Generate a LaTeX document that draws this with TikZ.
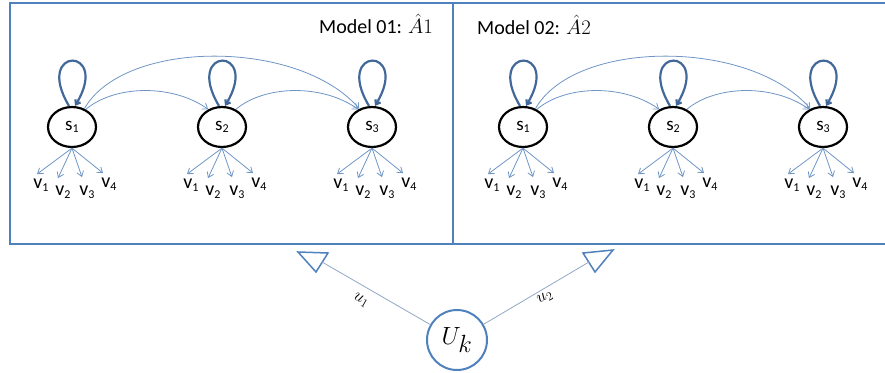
\documentclass[tikz,border=0pt]{standalone}
\usepackage{fontspec}
\setmainfont{Carlito}
\usetikzlibrary{arrows.meta,shapes.geometric}
\definecolor{boxblue}{HTML}{4F81BD}
\definecolor{arrblue}{HTML}{6F95C5}
\definecolor{loopblue}{HTML}{42689A}
\definecolor{linegray}{HTML}{8FA7C4}
\newcommand{\lowsub}[1]{\raisebox{-0.12em}{\fontsize{12}{12}\selectfont #1}}
\begin{document}
\begin{tikzpicture}[x=1pt,y=-1pt,
  state/.style={ellipse, draw=black, line width=2.2pt, minimum width=48pt, minimum height=40pt, inner sep=0pt, font=\fontsize{19}{19}\selectfont},
  obs/.style={inner sep=0pt, font=\fontsize{20}{20}\selectfont},
  varr/.style={draw=arrblue, line width=0.8pt, -{Straight Barb[length=5pt,width=7pt]}},
  trans/.style={draw=arrblue, line width=0.8pt, -{Straight Barb[length=5pt,width=7pt]}},
  selfloop/.style={draw=loopblue, line width=2.2pt, -{Straight Barb[length=4pt,width=6pt]}},
  panel/.style={draw=boxblue, line width=2.2pt},
  title/.style={inner sep=0pt, font=\fontsize{20}{20}\selectfont},
  tri/.style={draw=boxblue, line width=1.5pt, line join=miter},
  ulink/.style={draw=linegray, line width=0.8pt},
  ulabel/.style={inner sep=0pt, font=\fontsize{18}{18}\selectfont}
]
\useasboundingbox (0,0) rectangle (885,372);

% panels
\draw[panel] (10,3) rectangle (453,244);
\draw[panel] (453,3) rectangle (895,244);
\node[title, anchor=east] (t1) at (433,24) {Model 01: $\hat{A}1$};
\node[title, anchor=west] (t2) at (477,25) {Model 02: $\hat{A}2$};

\foreach \p/\dx in {1/0, 2/451}{
  \foreach \i/\x in {1/72, 2/222, 3/372}{
    \node[state] (p\p-s\i) at ({\x+\dx},127) {s\lowsub{\i}};
    \draw[selfloop] ([xshift=-3pt]p\p-s\i.north) .. controls +(-36,-60) and +(36,-60) .. ([xshift=3pt]p\p-s\i.north);
    \coordinate (p\p-s\i-a1) at ([shift={(-35,26)}]p\p-s\i.south);
    \coordinate (p\p-s\i-a2) at ([shift={(-14,30)}]p\p-s\i.south);
    \coordinate (p\p-s\i-a3) at ([shift={(10,29)}]p\p-s\i.south);
    \coordinate (p\p-s\i-a4) at ([shift={(31,25)}]p\p-s\i.south);
    \node[obs] (p\p-s\i-v1) at ([shift={(-31,37)}]p\p-s\i.south) {v\lowsub{1}};
    \node[obs] (p\p-s\i-v2) at ([shift={(-9,44)}]p\p-s\i.south) {v\lowsub{2}};
    \node[obs] (p\p-s\i-v3) at ([shift={(15,44)}]p\p-s\i.south) {v\lowsub{3}};
    \node[obs] (p\p-s\i-v4) at ([shift={(37,36)}]p\p-s\i.south) {v\lowsub{4}};
    \foreach \k in {1,2,3,4}{
      \draw[varr] (p\p-s\i.south) -- (p\p-s\i-a\k);
    }
  }
  \draw[trans] (p\p-s1.52) .. controls +(30,-25) and +(-35,-25) .. (p\p-s2.128);
  \draw[trans] (p\p-s2.52) .. controls +(30,-25) and +(-35,-25) .. (p\p-s3.128);
  \draw[trans] (p\p-s1.56) .. controls +(40,-70) and +(-60,-70) .. (p\p-s3.125);
}

% user node
\node[circle, draw=boxblue, line width=2pt, minimum size=60pt, inner sep=0pt,
      font=\fontsize{34}{34}\selectfont] (U) at (457,340) {$U_k$};

\draw[tri] (298,252) -- (328,253) -- (316,272) -- cycle;
\draw[tri] (583,253) -- (613,250) -- (595,272) -- cycle;
\coordinate (h1) at (322,262);
\coordinate (h2) at (589,262);
\draw[ulink] (U) -- (h1);
\draw[ulink] (U) -- (h2);
\node[ulabel, rotate=-30] (u1) at (361,300) {$u_1$};
\node[ulabel, rotate=28] (u2) at (545,298) {$u_2$};
\end{tikzpicture}
\end{document}
